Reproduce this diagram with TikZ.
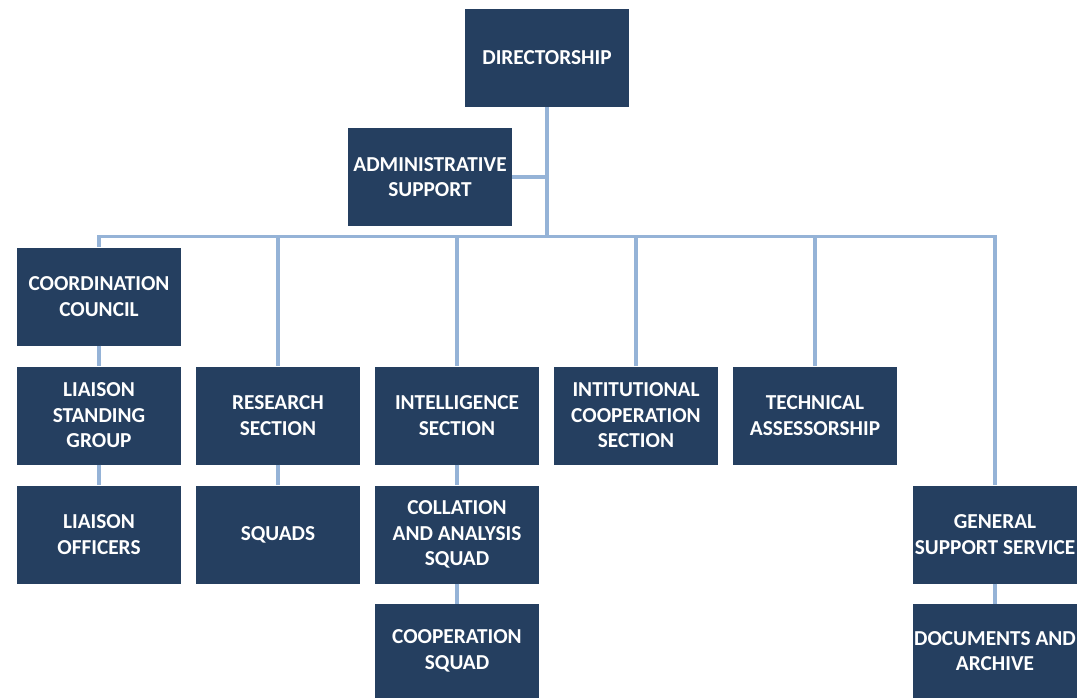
\documentclass[tikz,border=0pt]{standalone}
\usepackage{fontspec}
\setmainfont{Carlito}
\definecolor{boxfill}{HTML}{253F60}
\definecolor{linecol}{HTML}{95B3D7}
\begin{document}
\begin{tikzpicture}[x=1pt,y=-1pt,
  unit/.style={fill=boxfill, text=white, minimum width=164pt, minimum height=98pt,
    inner sep=0pt, align=center, font=\fontsize{21.3}{25.5}\selectfont\bfseries},
  lastunit/.style={unit, minimum height=94pt},
  conn/.style={draw=linecol, line width=3.5pt}]
\useasboundingbox (0,0) rectangle (1086,698);
\node[unit] (dir) at (547,58) {DIRECTORSHIP};
\node[unit] (adm) at (430,177) {ADMINISTRATIVE\\SUPPORT};
\node[unit] (coord) at (99,296.5) {COORDINATION\\COUNCIL};
\node[unit] (lsg) at (99,415.5) {LIAISON\\STANDING\\GROUP};
\node[unit] (res) at (278,415.5) {RESEARCH\\SECTION};
\node[unit] (int) at (457,415.5) {INTELLIGENCE\\SECTION};
\node[unit] (inst) at (636,415.5) {INTITUTIONAL\\COOPERATION\\SECTION};
\node[unit] (tech) at (815,415.5) {TECHNICAL\\ASSESSORSHIP};
\node[unit] (lo) at (99,534.5) {LIAISON\\OFFICERS};
\node[unit] (sq) at (278,534.5) {SQUADS};
\node[unit] (col) at (457,534.5) {COLLATION\\AND ANALYSIS\\SQUAD};
\node[unit] (gss) at (995,534.5) {GENERAL\\SUPPORT SERVICE};
\node[lastunit] (coop) at (457,651) {COOPERATION\\SQUAD};
\node[lastunit] (doc) at (995,651) {DOCUMENTS AND\\ARCHIVE};
\coordinate (bus) at (547,236.5);
\draw[conn] (dir) -- (dir |- bus);
\draw[conn] (adm.east) -- (adm.east -| dir);
\draw[conn, line cap=rect] (coord |- bus) -- (gss |- bus);
\draw[conn] (coord |- bus) -- (coord);
\draw[conn] (res |- bus) -- (res);
\draw[conn] (int |- bus) -- (int);
\draw[conn] (inst |- bus) -- (inst);
\draw[conn] (tech |- bus) -- (tech);
\draw[conn] (gss |- bus) -- (gss);
\draw[conn] (coord) -- (lsg);
\draw[conn] (lsg) -- (lo);
\draw[conn] (res) -- (sq);
\draw[conn] (int) -- (col);
\draw[conn] (col) -- (coop);
\draw[conn] (gss) -- (doc);
\end{tikzpicture}
\end{document}
